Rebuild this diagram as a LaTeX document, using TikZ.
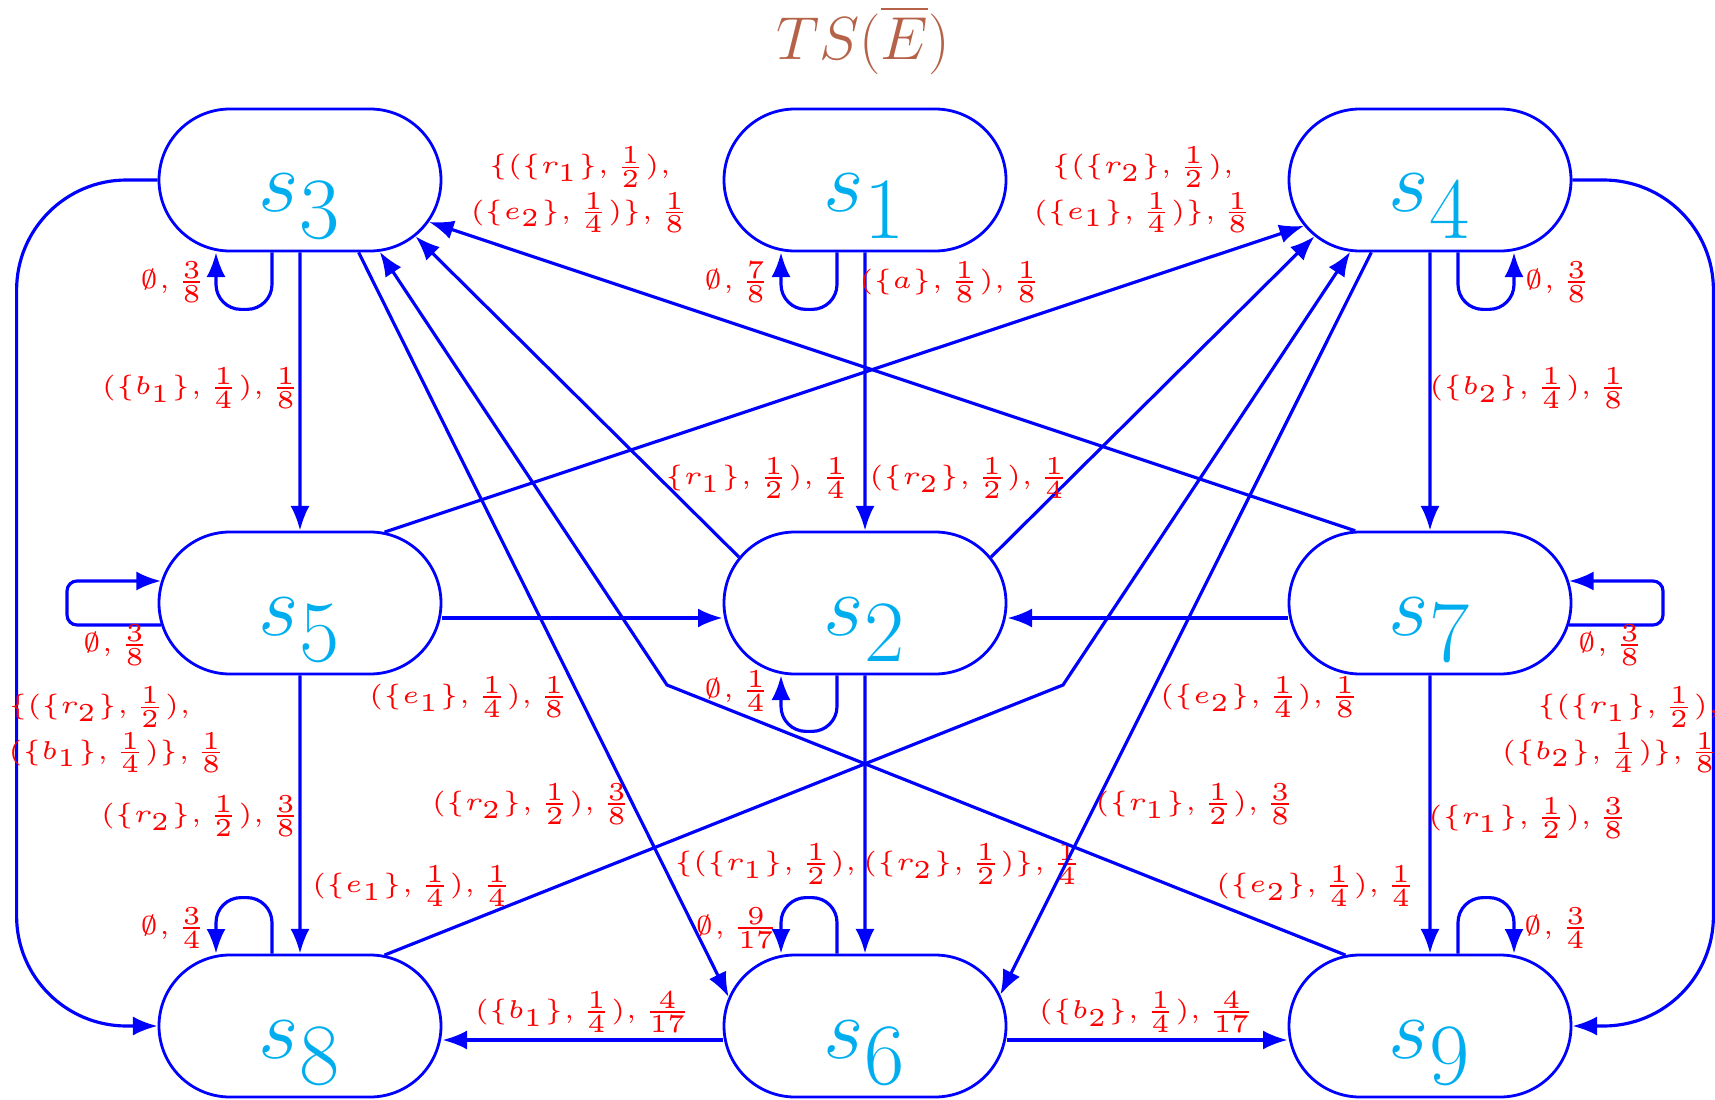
\documentclass[tikz,border=0pt]{standalone}
\usepackage{amsmath}
\usetikzlibrary{arrows.meta,shapes.misc}
\definecolor{stcol}{RGB}{0,174,239}
\definecolor{ttlcol}{RGB}{181,98,73}
\begin{document}
\begin{tikzpicture}[line width=0.9pt,>={Latex[length=7pt,width=5.4pt]}]
\tikzset{stnode/.style={rounded rectangle,draw=blue,line width=0.8pt,
    minimum width=2.82cm,minimum height=1.42cm,inner sep=0pt,text=stcol,
    font=\fontsize{34pt}{40pt}\selectfont,text height=0.64cm,text depth=0pt},
  tr/.style={blue,->},
  lp/.style={blue,->,rounded corners=0.25cm},
  lbl/.style={red,font=\tiny,scale=1.47,transform shape,inner sep=0pt}}
\useasboundingbox (0,0) rectangle (17.15,10.99);
\node[text=ttlcol,font=\LARGE] (ttl) at (8.63,10.59) {$TS(\overline{E})$};
% ================= states =================
\node[stnode] (s3) at (3.00,9.19) {$s_3$};
\node[stnode] (s1) at (8.65,9.19) {$s_1$};
\node[stnode] (s4) at (14.30,9.19) {$s_4$};
\node[stnode] (s5) at (3.00,4.96) {$s_5$};
\node[stnode] (s2) at (8.65,4.96) {$s_2$};
\node[stnode] (s7) at (14.30,4.96) {$s_7$};
\node[stnode] (s8) at (3.00,0.73) {$s_8$};
\node[stnode] (s6) at (8.65,0.73) {$s_6$};
\node[stnode] (s9) at (14.30,0.73) {$s_9$};
\coordinate (b1) at (6.67,4.14);
\coordinate (b2) at (10.63,4.14);
% ================= self loops =================
\draw[lp] ([xshift=-0.28cm]s3.south) -- ++(0,-0.57) -| ([xshift=-0.84cm]s3.south);
\draw[lp] ([xshift=-0.28cm]s1.south) -- ++(0,-0.57) -| ([xshift=-0.84cm]s1.south);
\draw[lp] ([xshift=0.28cm]s4.south) -- ++(0,-0.57) -| ([xshift=0.84cm]s4.south);
\draw[lp] ([xshift=-0.28cm]s2.south) -- ++(0,-0.56) -| ([xshift=-0.84cm]s2.south);
\draw[lp] ([xshift=-0.28cm]s6.north) -- ++(0,0.56) -| ([xshift=-0.84cm]s6.north);
\draw[lp] ([xshift=-0.28cm]s8.north) -- ++(0,0.56) -| ([xshift=-0.84cm]s8.north);
\draw[lp] ([xshift=0.28cm]s9.north) -- ++(0,0.56) -| ([xshift=0.84cm]s9.north);
\draw[lp,rounded corners=0.1cm] (s5.189) -- ++(-0.94,0) |- (s5.171);
\draw[lp,rounded corners=0.1cm] (s7.-9) -- ++(0.94,0) |- (s7.9);
\node[lbl,anchor=east] (ls3) at (2.09,8.17) {$\emptyset,\frac{3}{8}$};
\node[lbl,anchor=east] (ls1) at (7.73,8.17) {$\emptyset,\frac{7}{8}$};
\node[lbl,anchor=west] (ls4) at (15.22,8.17) {$\emptyset,\frac{3}{8}$};
\node[lbl,anchor=east] (ls2) at (7.73,4.08) {$\emptyset,\frac{1}{4}$};
\node[lbl] (ls5) at (1.16,4.54) {$\emptyset,\frac{3}{8}$};
\node[lbl] (ls7) at (16.11,4.54) {$\emptyset,\frac{3}{8}$};
\node[lbl,anchor=east] (ls6) at (7.82,1.71) {$\emptyset,\frac{9}{17}$};
\node[lbl,anchor=east] (ls8) at (2.09,1.71) {$\emptyset,\frac{3}{4}$};
\node[lbl,anchor=west] (ls9) at (15.21,1.71) {$\emptyset,\frac{3}{4}$};
% ================= straight transitions =================
\draw[tr] (s3) -- (s5);
\draw[tr] (s1) -- (s2);
\draw[tr] (s4) -- (s7);
\draw[tr] (s5) -- (s8);
\draw[tr] (s2) -- (s6);
\draw[tr] (s7) -- (s9);
\draw[tr] ([yshift=-0.15cm]s5.east) -- ([yshift=-0.15cm]s2.west);
\draw[tr] ([yshift=-0.15cm]s7.west) -- ([yshift=-0.15cm]s2.east);
\draw[tr] ([yshift=-0.14cm]s6.west) -- ([yshift=-0.14cm]s8.east);
\draw[tr] ([yshift=-0.14cm]s6.east) -- ([yshift=-0.14cm]s9.west);
\node[lbl,anchor=west] (l12) at (8.57,8.17) {$(\{a\},\frac{1}{8}),\frac{1}{8}$};
\node[lbl,anchor=east] (l35) at (3.03,7.11) {$(\{b_1\},\frac{1}{4}),\frac{1}{8}$};
\node[lbl,anchor=west] (l47) at (14.27,7.11) {$(\{b_2\},\frac{1}{4}),\frac{1}{8}$};
\node[lbl,anchor=east] (l58) at (3.03,2.83) {$(\{r_2\},\frac{1}{2}),\frac{3}{8}$};
\node[lbl,anchor=west] (l79) at (14.26,2.81) {$(\{r_1\},\frac{1}{2}),\frac{3}{8}$};
\node[lbl] (l26) at (8.78,2.35) {$\{(\{r_1\},\frac{1}{2}),(\{r_2\},\frac{1}{2})\},\frac{1}{4}$};
\node[lbl] (l52) at (4.69,4.02) {$(\{e_1\},\frac{1}{4}),\frac{1}{8}$};
\node[lbl] (l72) at (12.60,4.02) {$(\{e_2\},\frac{1}{4}),\frac{1}{8}$};
\node[lbl] (l68) at (5.83,0.87) {$(\{b_1\},\frac{1}{4}),\frac{4}{17}$};
\node[lbl] (l69) at (11.47,0.87) {$(\{b_2\},\frac{1}{4}),\frac{4}{17}$};
% ================= diagonal transitions =================
\draw[tr] (s2.160) -- (s3.-26);
\draw[tr] (s2.20) -- (s4.206);
\draw[tr] (s7.136) -- (s3.-18);
\draw[tr] (s5.40) -- (s4.200);
\draw[tr] (s3.-51) -- (s6.168);
\draw[tr] (s4.231) -- (s6.13);
\draw[tr] (s9.140) -- (b1) -- (s3.-42);
\draw[tr] (s8.40) -- (b2) -- (s4.222);
\node[lbl,anchor=east] (l23) at (8.53,6.21) {$\{r_1\},\frac{1}{2}),\frac{1}{4}$};
\node[lbl,anchor=west] (l24) at (8.67,6.21) {$(\{r_2\},\frac{1}{2}),\frac{1}{4}$};
\node[lbl,align=center] (l73) at (5.80,9.09) {$\{(\{r_1\},\frac{1}{2}),$\\$(\{e_2\},\frac{1}{4})\},\frac{1}{8}$};
\node[lbl,align=center] (l54) at (11.43,9.09) {$\{(\{r_2\},\frac{1}{2}),$\\$(\{e_1\},\frac{1}{4})\},\frac{1}{8}$};
\node[lbl,anchor=east] (l36) at (6.34,2.95) {$(\{r_2\},\frac{1}{2}),\frac{3}{8}$};
\node[lbl,anchor=west] (l46) at (10.93,2.95) {$(\{r_1\},\frac{1}{2}),\frac{3}{8}$};
\node[lbl] (l84) at (4.12,2.13) {$(\{e_1\},\frac{1}{4}),\frac{1}{4}$};
\node[lbl] (l93) at (13.16,2.13) {$(\{e_2\},\frac{1}{4}),\frac{1}{4}$};
% ================= outer arcs =================
\draw[tr,rounded corners=1.1cm] (s3.west) -- ++(-1.41,0) |- (s8.west);
\draw[tr,rounded corners=1.1cm] (s4.east) -- ++(1.41,0) |- (s9.east);
\node[lbl,align=left,anchor=west] (l38) at (0.06,3.69) {$\{(\{r_2\},\frac{1}{2}),$\\$(\{b_1\},\frac{1}{4})\},\frac{1}{8}$};
\node[lbl,align=right,anchor=east] (l49) at (17.22,3.69) {$\{(\{r_1\},\frac{1}{2}),$\\$(\{b_2\},\frac{1}{4})\},\frac{1}{8}$};
\end{tikzpicture}
\end{document}
